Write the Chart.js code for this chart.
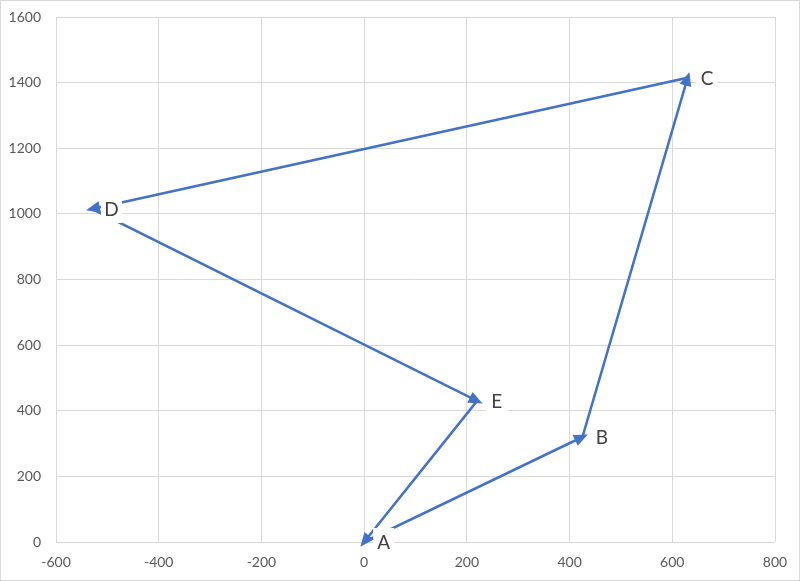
<!DOCTYPE html>
<html>
<head>
<meta charset="utf-8">
<script src="https://cdn.jsdelivr.net/npm/chart.js@4.4.1/dist/chart.umd.min.js"></script>
<style>
  body { margin: 0; background: #fff; }
</style>
</head>
<body>
<canvas id="chart" width="800" height="581"></canvas>
<script>
// points of the path, visited in order and closed back to the first
var names = ["A", "B", "C", "D", "E"];
var xs = [0, 425, 630, -530, 220];
var ys = [0, 320, 1415, 1015, 430];
var xTicks = [-600, -400, -200, 0, 200, 400, 600, 800];
var yTicks = [0, 200, 400, 600, 800, 1000, 1200, 1400, 1600];

var path = [];
for (var i = 0; i <= names.length; i++) {
  var k = i % names.length;
  path.push({ x: xs[k], y: ys[k] });
}

var blue = "#4472C4";

var frame = {
  id: "frame",
  beforeDraw: function (chart) {
    var ctx = chart.ctx;
    ctx.save();
    ctx.fillStyle = "#fff";
    ctx.fillRect(0, 0, chart.width, chart.height);
    ctx.strokeStyle = "#d9d9d9";
    ctx.lineWidth = 1;
    ctx.strokeRect(0.5, 0.5, chart.width - 1, chart.height - 1);
    ctx.restore();
  },
};

var arrowLabels = {
  id: "arrowLabels",
  afterDatasetsDraw: function (chart) {
    var ctx = chart.ctx;
    var pts = chart.getDatasetMeta(0).data;
    ctx.save();
    // label boxes (white, masking lines and grid), then text
    ctx.font = "19px Lato";
    ctx.textAlign = "center";
    ctx.textBaseline = "middle";
    for (var i = 0; i < names.length; i++) {
      var p = pts[i];
      ctx.fillStyle = "#fff";
      ctx.fillRect(p.x + 9, p.y - 14, 21, 28);
      ctx.fillStyle = "#404040";
      ctx.fillText(names[i], p.x + 19.5, p.y + 1);
    }
    // arrow heads at the end of every segment
    ctx.fillStyle = blue;
    for (var j = 1; j < pts.length; j++) {
      var a = pts[j - 1], b = pts[j];
      var dx = b.x - a.x, dy = b.y - a.y;
      var len = Math.sqrt(dx * dx + dy * dy);
      var ux = dx / len, uy = dy / len;
      var tipX = b.x + ux * 6, tipY = b.y + uy * 6;
      var baseX = b.x - ux * 8, baseY = b.y - uy * 8;
      ctx.beginPath();
      ctx.moveTo(tipX, tipY);
      ctx.lineTo(baseX - uy * 6, baseY + ux * 6);
      ctx.lineTo(baseX + uy * 6, baseY - ux * 6);
      ctx.closePath();
      ctx.fill();
    }
    ctx.restore();
  },
};

var chart = new Chart(document.getElementById("chart"), {
  type: "scatter",
  data: {
    datasets: [
      {
        data: path,
        showLine: true,
        borderColor: blue,
        backgroundColor: blue,
        borderWidth: 2.5,
        pointRadius: 0,
        tension: 0,
      },
    ],
  },
  options: {
    responsive: false,
    animation: false,
    layout: { padding: { left: 0, top: 17, right: 25, bottom: 0 } },
    plugins: { legend: { display: false }, tooltip: { enabled: false } },
    scales: {
      x: {
        type: "linear",
        min: xTicks[0],
        max: xTicks[xTicks.length - 1],
        afterBuildTicks: function (s) {
          s.ticks = xTicks.map(function (v) { return { value: v }; });
        },
        afterFit: function (s) {
          s.height = 39;
          s.paddingLeft = 0;
          s.paddingRight = 0;
        },
        grid: { color: "#d9d9d9", drawTicks: false },
        border: { display: false },
        ticks: {
          padding: 12, color: "#595959", font: { family: "Lato", size: 14 },
          callback: function (v) { return String(v); },
        },
      },
      y: {
        type: "linear",
        min: yTicks[0],
        max: yTicks[yTicks.length - 1],
        afterBuildTicks: function (s) {
          s.ticks = yTicks.map(function (v) { return { value: v }; });
        },
        afterFit: function (s) {
          s.width = 56;
          s.paddingTop = 0;
          s.paddingBottom = 0;
        },
        grid: { color: "#d9d9d9", drawTicks: false },
        border: { display: false },
        ticks: {
          padding: 15, color: "#595959", font: { family: "Lato", size: 14 },
          callback: function (v) { return String(v); },
        },
      },
    },
  },
  plugins: [frame, arrowLabels],
});
</script>
</body>
</html>
